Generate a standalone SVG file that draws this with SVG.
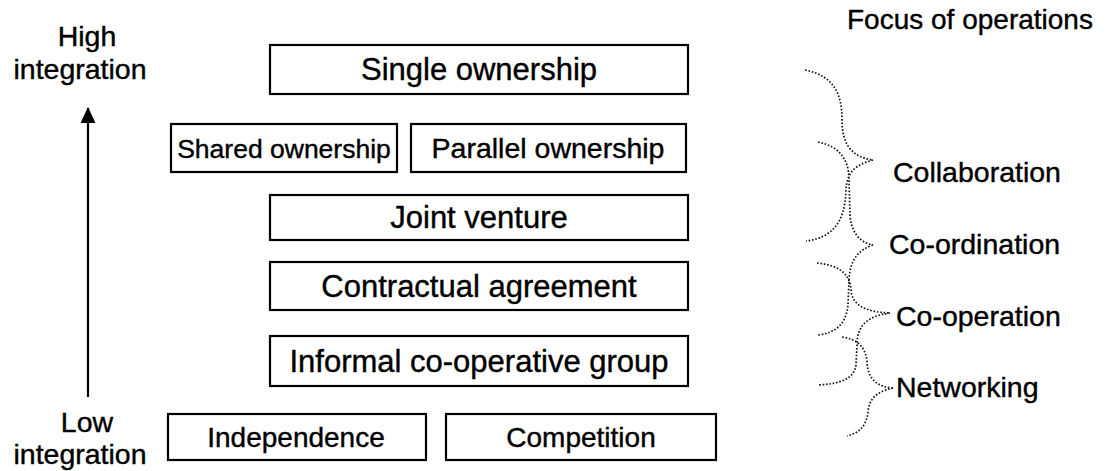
<svg xmlns="http://www.w3.org/2000/svg" width="1108" height="471" viewBox="0 0 1108 471">
<style>
.box{fill:#fff;stroke:#000;stroke-width:2.2}
.t{font-family:"Liberation Sans",Arial,sans-serif;font-size:31px;fill:#000;stroke:#000;stroke-width:0.4}
.c{text-anchor:middle}
.s{font-size:28.5px}
.br{fill:none;stroke:#111;stroke-width:1.7;stroke-dasharray:1.6 1.8}
</style>
<defs>
<marker id="ah" viewBox="0 0 16 16" refX="15" refY="8" markerWidth="16" markerHeight="16" markerUnits="userSpaceOnUse" orient="auto">
<path d="M0,0.5 L16,8 L0,15.5 Z" fill="#000"/>
</marker>
</defs>
<rect width="1108" height="471" fill="#fff"/>
<g id="axis-labels">
<text class="t s c" x="87" y="46">High</text>
<text class="t s c" x="80" y="79">integration</text>
<text class="t s c" x="87" y="432">Low</text>
<text class="t s c" x="80" y="464">integration</text>
<text class="t" x="847" y="29" style="font-size:28px">Focus of operations</text>
</g>
<g id="n-single"><rect class="box" x="270" y="45" width="418" height="49"/><text class="t c" x="479" y="80">Single ownership</text></g>
<g id="n-shared"><rect class="box" x="171" y="124" width="226" height="48"/><text class="t c" x="284" y="158" style="font-size:26.5px">Shared ownership</text></g>
<g id="n-parallel"><rect class="box" x="411" y="124" width="275" height="48"/><text class="t c" x="548" y="158" style="font-size:28.5px">Parallel ownership</text></g>
<g id="n-joint"><rect class="box" x="270" y="195" width="418" height="45"/><text class="t c" x="479" y="228">Joint venture</text></g>
<g id="n-contract"><rect class="box" x="270" y="262" width="418" height="48"/><text class="t c" x="479" y="297">Contractual agreement</text></g>
<g id="n-informal"><rect class="box" x="270" y="336" width="418" height="50"/><text class="t c" x="479" y="372">Informal co-operative group</text></g>
<g id="n-independence"><rect class="box" x="168" y="414" width="258" height="46"/><text class="t c" x="296" y="447" style="font-size:28px">Independence</text></g>
<g id="n-competition"><rect class="box" x="446" y="414" width="270" height="46"/><text class="t c" x="581" y="447" style="font-size:28px">Competition</text></g>
<g id="connectors">
<line x1="88" y1="397" x2="88" y2="108" stroke="#000" stroke-width="2.2" marker-end="url(#ah)"/>
<path class="br" d="M805,70 C835,76 842,95 842,120 C842,145 852,157 873,160"/>
<path class="br" d="M873,160 C855,165 847,172 846,190 C845,225 830,238 806,241"/>
<path class="br" d="M818,142 C838,146 849,158 849,180 L850,215 C851,232 860,243 873,245"/>
<path class="br" d="M873,245 C858,250 850,260 849,280 L848,305 C846,325 835,333 818,335"/>
<path class="br" d="M817,263 C838,265 850,273 851,290 C852,305 865,312 890,313"/>
<path class="br" d="M890,313 C868,316 857,325 857,345 L856,365 C854,380 838,384 818,385"/>
<path class="br" d="M842,337 C858,339 866,348 867,362 C868,380 878,387 893,388"/>
<path class="br" d="M893,388 C875,392 869,400 868,412 C866,428 858,433 847,436"/>
</g>
<g id="focus-labels">
<text class="t s" x="893" y="182">Collaboration</text>
<text class="t s" x="889" y="254">Co-ordination</text>
<text class="t s" x="896" y="326">Co-operation</text>
<text class="t s" x="896" y="397">Networking</text>
</g>
</svg>
